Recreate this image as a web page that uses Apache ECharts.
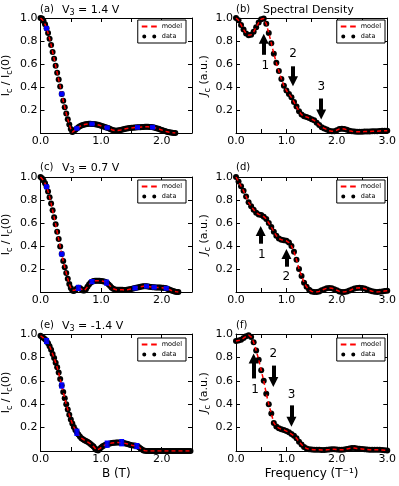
<!DOCTYPE html>
<html>
<head>
<meta charset="utf-8">
<script src="https://cdn.jsdelivr.net/npm/echarts@6/dist/echarts.min.js"></script>
<style>
  html, body { margin: 0; padding: 0; background: #fff; }
  #chart { width: 399px; height: 486px; }
</style>
</head>
<body>
<div id="chart"></div>
<script>
// sampling step of the curves (B in T on the left, frequency in 1/T on the right)
const STEP_B = 0.025;
const STEP_F = 0.05;

// (a) V3 = 1.4 V : Ic / Ic(0) vs B
const ratioA = [1.000, 0.995, 0.975, 0.945, 0.910, 0.870, 0.820, 0.765, 0.705, 0.645,
  0.585, 0.525, 0.465, 0.405, 0.340, 0.280, 0.225, 0.170, 0.120, 0.075,
  0.035, 0.008, 0.015, 0.028, 0.040, 0.050, 0.058, 0.065, 0.070, 0.074,
  0.077, 0.079, 0.080, 0.080, 0.079, 0.078, 0.077, 0.075, 0.072, 0.067,
  0.062, 0.058, 0.054, 0.050, 0.046, 0.041, 0.035, 0.029, 0.024, 0.021,
  0.020, 0.022, 0.024, 0.027, 0.030, 0.033, 0.036, 0.039, 0.041, 0.043,
  0.045, 0.046, 0.047, 0.048, 0.049, 0.050, 0.051, 0.052, 0.053, 0.054,
  0.054, 0.054, 0.053, 0.052, 0.050, 0.047, 0.044, 0.040, 0.036, 0.031,
  0.026, 0.021, 0.017, 0.013, 0.009, 0.006, 0.004, 0.002, 0.001, 0.000];
const errA = [[0.10, 0.910, 0.008], [0.35, 0.340, 0.008], [0.60, 0.040, 0.006], [0.85, 0.079, 0.006],
  [1.10, 0.046, 0.006], [1.60, 0.049, 0.008], [1.85, 0.050, 0.008]];

// (c) V3 = 0.7 V
const ratioC = [1.000, 0.990, 0.970, 0.945, 0.915, 0.875, 0.825, 0.770, 0.710, 0.650,
  0.590, 0.525, 0.460, 0.395, 0.330, 0.270, 0.215, 0.165, 0.115, 0.070,
  0.035, 0.012, 0.008, 0.018, 0.030, 0.036, 0.034, 0.024, 0.013, 0.012,
  0.025, 0.045, 0.065, 0.080, 0.090, 0.095, 0.097, 0.098, 0.098, 0.097,
  0.096, 0.094, 0.091, 0.086, 0.078, 0.066, 0.052, 0.038, 0.028, 0.022,
  0.020, 0.020, 0.020, 0.020, 0.019, 0.018, 0.018, 0.019, 0.021, 0.024,
  0.027, 0.030, 0.033, 0.036, 0.039, 0.042, 0.045, 0.047, 0.049, 0.050,
  0.050, 0.048, 0.046, 0.044, 0.042, 0.041, 0.040, 0.040, 0.040, 0.039,
  0.038, 0.037, 0.035, 0.032, 0.027, 0.021, 0.015, 0.010, 0.006, 0.003,
  0.001, 0.000];
const errC = [[0.10, 0.915, 0.010], [0.35, 0.330, 0.010], [0.625, 0.036, 0.020], [0.85, 0.090, 0.015],
  [1.09, 0.082, 0.020], [1.56, 0.034, 0.010], [1.75, 0.050, 0.008], [1.875, 0.041, 0.008], [2.075, 0.032, 0.010]];

// (e) V3 = -1.4 V
const ratioE = [0.985, 0.975, 0.965, 0.955, 0.940, 0.920, 0.895, 0.865, 0.830, 0.795,
  0.755, 0.715, 0.670, 0.615, 0.560, 0.505, 0.450, 0.400, 0.355, 0.310,
  0.270, 0.235, 0.205, 0.180, 0.160, 0.140, 0.125, 0.110, 0.100, 0.092,
  0.085, 0.078, 0.070, 0.060, 0.050, 0.038, 0.022, 0.008, 0.005, 0.018,
  0.030, 0.040, 0.048, 0.054, 0.058, 0.062, 0.065, 0.068, 0.070, 0.071,
  0.072, 0.072, 0.072, 0.071, 0.070, 0.068, 0.065, 0.062, 0.058, 0.054,
  0.050, 0.046, 0.048, 0.045, 0.040, 0.032, 0.022, 0.012, 0.005, 0.002,
  0.000, 0.000, 0.000, 0.000, 0.000, 0.000, 0.000, 0.000, 0.000, 0.000,
  0.000, 0.000, 0.000, 0.000, 0.000, 0.000, 0.000, 0.000, 0.000, 0.000,
  0.000, 0.000, 0.000, 0.000, 0.000, 0.000, 0.000, 0.000, 0.000, 0.000];
const errE = [[0.10, 0.940, 0.020], [0.35, 0.560, 0.020], [0.60, 0.160, 0.025],
  [1.10, 0.058, 0.025], [1.34, 0.071, 0.025], [1.59, 0.042, 0.020]];

// (b), (d), (f) spectral density Jc vs frequency
const densB = [1.00, 0.98, 0.94, 0.90, 0.865, 0.85, 0.855, 0.88, 0.92, 0.96,
  0.99, 0.995, 0.95, 0.87, 0.78, 0.69, 0.61, 0.54, 0.47, 0.41,
  0.37, 0.34, 0.31, 0.27, 0.23, 0.19, 0.16, 0.145, 0.14, 0.13,
  0.12, 0.11, 0.09, 0.07, 0.05, 0.04, 0.03, 0.02, 0.015, 0.015,
  0.025, 0.035, 0.038, 0.035, 0.028, 0.02, 0.015, 0.012, 0.01, 0.01,
  0.01, 0.012, 0.012, 0.012, 0.015, 0.015, 0.015, 0.018, 0.02, 0.02, 0.02];
const densD = [1.0, 0.96, 0.92, 0.88, 0.83, 0.78, 0.745, 0.715, 0.69, 0.675,
  0.67, 0.655, 0.635, 0.6, 0.565, 0.525, 0.49, 0.465, 0.455, 0.45,
  0.445, 0.43, 0.40, 0.35, 0.28, 0.20, 0.14, 0.08, 0.045, 0.02,
  0.005, 0.0, 0.0, 0.005, 0.015, 0.025, 0.032, 0.035, 0.033, 0.025,
  0.015, 0.005, 0.0, 0.0, 0.005, 0.012, 0.022, 0.03, 0.035, 0.036,
  0.035, 0.03, 0.022, 0.013, 0.006, 0.002, 0.0, 0.002, 0.005, 0.008, 0.01];
const densF = [0.94, 0.945, 0.95, 0.965, 0.98, 0.99, 0.975, 0.93, 0.86, 0.78,
  0.69, 0.60, 0.49, 0.40, 0.32, 0.24, 0.21, 0.195, 0.185, 0.18,
  0.17, 0.16, 0.145, 0.13, 0.11, 0.08, 0.055, 0.035, 0.022, 0.015,
  0.012, 0.01, 0.01, 0.01, 0.008, 0.008, 0.01, 0.012, 0.015, 0.015,
  0.012, 0.01, 0.01, 0.012, 0.018, 0.022, 0.025, 0.025, 0.022, 0.02,
  0.018, 0.015, 0.012, 0.01, 0.01, 0.01, 0.01, 0.01, 0.008, 0.006, 0.005];

// arrows [x, tail y, head y] and their numbers [x, y, text]
const arrowsB = [[0.55, 0.68, 0.82], [1.13, 0.58, 0.45], [1.69, 0.30, 0.16]];
const numsB = [[0.58, 0.58, '1'], [1.13, 0.69, '2'], [1.69, 0.40, '3']];
const arrowsD = [[0.49, 0.42, 0.53], [1.00, 0.22, 0.33]];
const numsD = [[0.51, 0.32, '1'], [1.00, 0.13, '2']];
const arrowsF = [[0.35, 0.62, 0.79], [0.74, 0.73, 0.59], [1.10, 0.39, 0.25]];
const numsF = [[0.38, 0.52, '1'], [0.74, 0.83, '2'], [1.10, 0.48, '3']];

const FONT = 'DejaVu Sans';
const rich = {
  n: { fontSize: 11, lineHeight: 14, color: '#000', fontFamily: FONT },
  j: { fontSize: 11, lineHeight: 14, color: '#000', fontFamily: FONT, fontStyle: 'italic' },
  s: { fontSize: 8, lineHeight: 7, verticalAlign: 'bottom', color: '#000', fontFamily: FONT }
};

const panels = [
  { tag: '(a)', head: '{n|V}{s|3}{n| = 1.4 V}', vals: ratioA, step: STEP_B, xMax: 2.5, err: errA, col: 0, row: 0 },
  { tag: '(b)', head: '{n|Spectral Density}', vals: densB, step: STEP_F, xMax: 3, arrows: arrowsB, nums: numsB, col: 1, row: 0 },
  { tag: '(c)', head: '{n|V}{s|3}{n| = 0.7 V}', vals: ratioC, step: STEP_B, xMax: 2.5, err: errC, col: 0, row: 1 },
  { tag: '(d)', head: '', vals: densD, step: STEP_F, xMax: 3, arrows: arrowsD, nums: numsD, col: 1, row: 1 },
  { tag: '(e)', head: '{n|V}{s|3}{n| = -1.4 V}', vals: ratioE, step: STEP_B, xMax: 2.5, err: errE, col: 0, row: 2 },
  { tag: '(f)', head: '', vals: densF, step: STEP_F, xMax: 3, arrows: arrowsF, nums: numsF, col: 1, row: 2 }
];

const colLeft = [40, 236];
const rowTop = [18, 177, 334];
const rowH = [115, 115, 117];
const titleTop = [3, 161, 319];
const legendTop = [20, 180, 338];
const legendRight = [213, 14];

const dashIcon = 'path://M0,1h6v2h-6z M10,1h6v2h-6z';
const dotsIcon = 'path://M1,2a2,2 0 1,0 4,0a2,2 0 1,0 -4,0z M11,2a2,2 0 1,0 4,0a2,2 0 1,0 -4,0z';

const grid = [], xAxis = [], yAxis = [], series = [], title = [], legend = [];

const tickStyle = { inside: true, length: 4, lineStyle: { color: '#000', width: 1 } };
const lineStyle = { show: true, onZero: false, lineStyle: { color: '#000', width: 1 } };

panels.forEach((p, i) => {
  const left = colLeft[p.col];
  const top = rowTop[p.row];
  grid.push({ left: left, top: top, width: 152, height: rowH[p.row] });

  title.push({ text: p.tag, left: left, top: titleTop[p.row] + 1, padding: 0,
    textStyle: { fontSize: 10, fontWeight: 'normal', color: '#000', fontFamily: FONT } });
  if (p.head) {
    title.push({ text: p.head, left: left + (p.col ? 27 : 22), top: titleTop[p.row], padding: 0,
      textStyle: { fontSize: 11, fontWeight: 'normal', color: '#000', fontFamily: FONT, rich: rich } });
  }

  legend.push({
    orient: 'vertical', right: legendRight[p.col], top: legendTop[p.row],
    backgroundColor: '#fff', borderColor: '#000', borderWidth: 1, borderRadius: 0,
    padding: [3, 4, 3, 4], itemGap: 3, itemWidth: 15, itemHeight: 4, selectedMode: false,
    textStyle: { fontSize: 6.5, color: '#000', fontFamily: FONT },
    data: [{ name: 'model', icon: dashIcon }, { name: 'data', icon: dotsIcon }]
  });

  const bottomRow = p.row === 2;
  let xName = '';
  if (bottomRow) xName = p.col ? 'Frequency (T\u207B\u00B9)' : 'B (T)';
  xAxis.push({
    gridIndex: i, type: 'value', min: 0, max: p.xMax, interval: 0.5,
    axisLine: lineStyle, axisTick: tickStyle, splitLine: { show: false },
    axisLabel: { fontSize: 11, color: '#000', fontFamily: FONT, margin: 3,
      formatter: v => (Math.abs(v - Math.round(v)) < 1e-6 ? v.toFixed(1) : '') },
    name: xName, nameLocation: 'middle', nameGap: 17,
    nameTextStyle: { fontSize: 12, color: '#000', fontFamily: FONT }
  });
  xAxis.push({
    gridIndex: i, type: 'value', min: 0, max: p.xMax, interval: 0.5, position: 'top',
    axisLine: lineStyle, axisTick: tickStyle, splitLine: { show: false }, axisLabel: { show: false }
  });

  const yName = p.col ? '{j|J}{s|c}{n| (a.u.)}' : '{n|I}{s|c}{n| / I}{s|c}{n|(0)}';
  yAxis.push({
    gridIndex: i, type: 'value', min: 0, max: 1, interval: 0.2,
    axisLine: lineStyle, axisTick: tickStyle, splitLine: { show: false },
    axisLabel: { fontSize: 11, color: '#000', fontFamily: FONT, margin: 3,
      formatter: v => (v === 0 ? '' : v.toFixed(1)) },
    name: yName, nameLocation: 'middle', nameGap: p.col ? 22 : 27,
    nameTextStyle: { fontSize: 11, color: '#000', fontFamily: FONT, rich: rich }
  });
  yAxis.push({
    gridIndex: i, type: 'value', min: 0, max: 1, interval: 0.2, position: 'right',
    axisLine: lineStyle, axisTick: tickStyle, splitLine: { show: false }, axisLabel: { show: false }
  });

  const pts = p.vals.map((v, k) => [+(k * p.step).toFixed(3), v]);
  const xi = 2 * i, yi = 2 * i;

  series.push({
    name: 'data', type: 'scatter', xAxisIndex: xi, yAxisIndex: yi, data: pts,
    symbol: 'circle', symbolSize: 6, itemStyle: { color: '#000', opacity: 1 }, z: 2, silent: true
  });

  const model = {
    name: 'model', type: 'line', xAxisIndex: xi, yAxisIndex: yi, data: pts,
    showSymbol: false, color: '#ff0000', itemStyle: { color: '#ff0000' },
    lineStyle: { color: '#ff0000', width: 1.5, type: [4, 3] }, z: 3, silent: true
  };
  if (p.arrows) {
    model.markLine = {
      silent: true, symbol: ['none', 'triangle'], symbolSize: 10, precision: 3,
      label: { show: false }, lineStyle: { color: '#000', width: 4, type: 'solid', opacity: 1 },
      itemStyle: { color: '#000' },
      emphasis: { disabled: true },
      data: p.arrows.map(a => [{ coord: [a[0], a[1]] }, { coord: [a[0], a[2]] }])
    };
    model.markPoint = {
      silent: true, symbol: 'circle', symbolSize: 0,
      data: p.nums.map(n => ({ coord: [n[0], n[1]], value: n[2],
        label: { show: true, position: 'inside', formatter: n[2], fontSize: 12, color: '#000', fontFamily: FONT } }))
    };
  }
  series.push(model);

  if (p.err) {
    series.push({
      type: 'custom', xAxisIndex: xi, yAxisIndex: yi, data: p.err, z: 4, silent: true,
      encode: { x: 0, y: 1 },
      renderItem: (params, api) => {
        const x = api.value(0), y = api.value(1), e = api.value(2);
        const hi = api.coord([x, y + e]);
        const lo = api.coord([x, y - e]);
        const w = 2.5;
        const st = { stroke: '#0000ff', lineWidth: 1.5 };
        return { type: 'group', children: [
          { type: 'line', shape: { x1: hi[0], y1: hi[1], x2: lo[0], y2: lo[1] }, style: st },
          { type: 'line', shape: { x1: hi[0] - w, y1: hi[1], x2: hi[0] + w, y2: hi[1] }, style: st },
          { type: 'line', shape: { x1: lo[0] - w, y1: lo[1], x2: lo[0] + w, y2: lo[1] }, style: st }
        ] };
      }
    });
    series.push({
      type: 'scatter', xAxisIndex: xi, yAxisIndex: yi, data: p.err.map(d => [d[0], d[1]]),
      symbol: 'rect', symbolSize: 5, itemStyle: { color: '#0000ff' }, z: 5, silent: true
    });
  }
});

const chart = echarts.init(document.getElementById('chart'));
chart.setOption({
  animation: false,
  backgroundColor: '#fff',
  textStyle: { fontFamily: FONT },
  title: title,
  legend: legend,
  grid: grid,
  xAxis: xAxis,
  yAxis: yAxis,
  series: series
});
</script>
</body>
</html>
